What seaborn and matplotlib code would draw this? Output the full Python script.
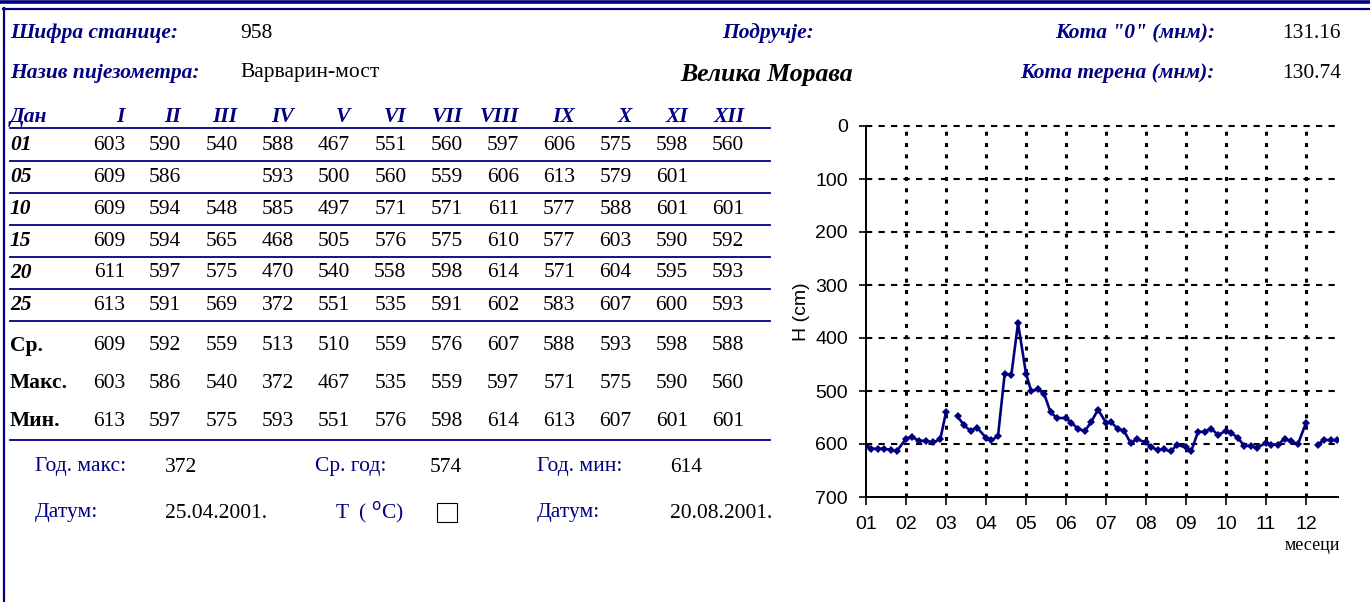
import numpy as np
import pandas as pd
import matplotlib
matplotlib.use("Agg")
import matplotlib.pyplot as plt
from matplotlib.lines import Line2D
from matplotlib.patches import Rectangle
import seaborn as sns

# ---- data ----
months_roman = ["I", "II", "III", "IV", "V", "VI", "VII", "VIII", "IX", "X", "XI", "XII"]
day_labels = ["01", "05", "10", "15", "20", "25"]
days = [1, 5, 10, 15, 20, 25]
nan = np.nan
d01 = [603, 590, 540, 588, 467, 551, 560, 597, 606, 575, 598, 560]
d05 = [609, 586, nan, 593, 500, 560, 559, 606, 613, 579, 601, nan]
d10 = [609, 594, 548, 585, 497, 571, 571, 611, 577, 588, 601, 601]
d15 = [609, 594, 565, 468, 505, 576, 575, 610, 577, 603, 590, 592]
d20 = [611, 597, 575, 470, 540, 558, 598, 614, 571, 604, 595, 593]
d25 = [613, 591, 569, 372, 551, 535, 591, 602, 583, 607, 600, 593]
avg_row = [609, 592, 559, 513, 510, 559, 576, 607, 588, 593, 598, 588]
max_row = [603, 586, 540, 372, 467, 535, 559, 597, 571, 575, 590, 560]
min_row = [613, 597, 575, 593, 551, 576, 598, 614, 613, 607, 601, 601]
stat_labels = ["Ср.", "Макс.", "Мин."]
month_ticks = ["01", "02", "03", "04", "05", "06", "07", "08", "09", "10", "11", "12"]
ndays = [31, 28, 31, 30, 31, 30, 31, 31, 30, 31, 30, 31]

station_code = "958"
piezometer = "Варварин-мост"
region = "Велика Морава"
kota0 = "131.16"
kota_teren = "130.74"
god_max, sr_god, god_min = "372", "574", "614"
datum_max, datum_min = "25.04.2001.", "20.08.2001."

NAVY = "#000080"
W, H = 1370, 602
FS = 15.5
plt.rcParams["font.family"] = ["Liberation Serif", "DejaVu Serif"]

fig = plt.figure(figsize=(W / 100, H / 100), dpi=100)


def px(x, y):
    return x / W, 1 - y / H


def txt(x, y, s, **kw):
    kw.setdefault("va", "center")
    kw.setdefault("fontsize", FS)
    fig.text(*px(x, y), s, **kw)


def hline(x0, x1, y, lw=1.3, color=NAVY):
    fig.add_artist(Line2D([x0 / W, x1 / W], [1 - y / H, 1 - y / H], color=color, lw=lw))


# frame
hline(0, W, 1.5, lw=2.6)
hline(3, W, 8.5, lw=1.6)
fig.add_artist(Line2D([4 / W, 4 / W], [1 - 8 / H, 0], color=NAVY, lw=1.6))

# header
lab = dict(color=NAVY, fontweight="bold", fontstyle="italic")
txt(10, 33, "Шифра станице:", **lab)
txt(240, 33, station_code)
txt(722, 33, "Подручје:", **lab)
txt(1215, 33, 'Кота "0" (мнм):', ha="right", **lab)
txt(1282, 33, kota0)
txt(10, 73, "Назив пијезометра:", **lab)
txt(240, 73, piezometer)
txt(680, 75, region, fontweight="bold", fontstyle="italic", fontsize=18.5)
txt(1215, 73, "Кота терена (мнм):", ha="right", **lab)
txt(1282, 73, kota_teren)

# table
col_right = [125 + 56.3 * i for i in range(12)]
txt(10, 117, "Дан", **lab)
for xr, m in zip(col_right, months_roman):
    txt(xr, 117, m, ha="right", **lab)

rows = [d01, d05, d10, d15, d20, d25]
row_y = [145, 177, 209, 241, 273, 305]
for lbl, vals, y in zip(day_labels, rows, row_y):
    txt(10, y, lbl, fontweight="bold", fontstyle="italic")
    for xr, v in zip(col_right, vals):
        if not np.isnan(v):
            txt(xr, y, f"{int(v)}", ha="right")
for y in [128, 161, 193, 225, 257, 289, 321]:
    hline(10, 770, y)

for lbl, vals, y in zip(stat_labels, [avg_row, max_row, min_row], [346, 383, 421]):
    txt(10, y, lbl, fontweight="bold")
    for xr, v in zip(col_right, vals):
        txt(xr, y, f"{v}", ha="right")
hline(10, 770, 440)

# yearly summary
blue = dict(color=NAVY)
txt(35, 467, "Год. макс:", **blue)
txt(165, 467, god_max)
txt(315, 467, "Ср. год:", **blue)
txt(430, 467, sr_god)
txt(537, 467, "Год. мин:", **blue)
txt(670, 467, god_min)
txt(35, 513, "Датум:", **blue)
txt(165, 513, datum_max)
txt(335, 513, "T  ( $^{\\mathrm{o}}$C)", **blue)
fig.add_artist(Rectangle(px(437, 522), 20 / W, 19 / H, fill=False, ec="black", lw=0.8))
txt(537, 513, "Датум:", **blue)
txt(670, 513, datum_min)

# chart data: one point per reading day, gaps split into segments
recs = []
seg = 0
for m in range(12):
    for d, r in zip(days, rows):
        v = r[m]
        if np.isnan(v):
            seg += 1
            continue
        recs.append({"x": m + (d - 1) / ndays[m], "h": v, "seg": seg})
df = pd.DataFrame(recs)

ax = fig.add_axes([866 / W, 1 - 497 / H, (1338 - 866) / W, (497 - 126) / H])
sns.lineplot(data=df, x="x", y="h", units="seg", estimator=None, sort=True,
             color=NAVY, lw=1.9, marker="D", markersize=4, markeredgewidth=0,
             ax=ax, legend=False)
ax.set_xlim(0, 11.8)
ax.set_ylim(700, 0)
ax.set_xticks(range(12))
ax.set_xticklabels(month_ticks, fontfamily="Liberation Sans", fontsize=14)
ax.set_yticks(range(0, 701, 100))
ax.set_yticklabels([str(v) for v in range(0, 701, 100)], fontfamily="Liberation Sans", fontsize=14)
ax.tick_params(axis="x", length=6, width=1.2, pad=8)
ax.tick_params(axis="y", length=5, width=1.2, pad=8)
for sp in ["top", "right"]:
    ax.spines[sp].set_visible(False)
for sp in ["left", "bottom"]:
    ax.spines[sp].set_linewidth(1.4)
for yv in range(0, 700, 100):
    ax.axhline(yv, color="black", lw=1.5, ls=(0, (3, 3)), zorder=0, clip_on=False)
for xv in range(1, 12):
    ax.axvline(xv, color="black", lw=2.2, ls=(0, (1.3, 2.4)), zorder=0)
ax.set_xlabel("")
ax.set_ylabel("H (cm)", fontfamily="Liberation Sans", fontsize=14, labelpad=4)
txt(1340, 546, "месеци", ha="right", fontsize=13)

fig.savefig("out.png", dpi=100)
